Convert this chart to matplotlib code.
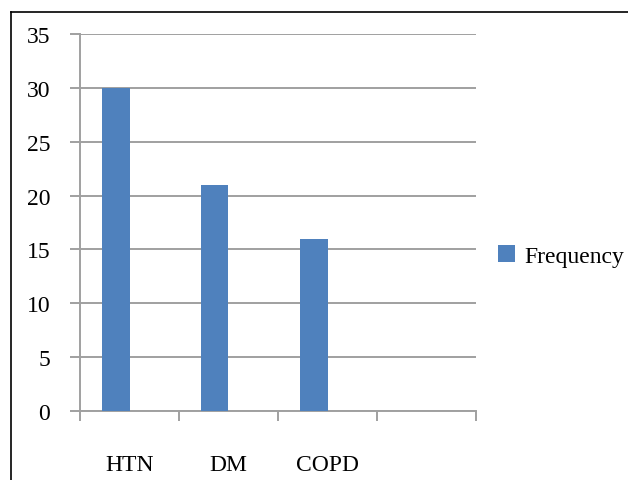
import matplotlib.pyplot as plt
from matplotlib.lines import Line2D

categories = ["HTN", "DM", "COPD", ""]
frequency = [30, 21, 16, None]
y_ticks = [0, 5, 10, 15, 20, 25, 30, 35]

plt.rcParams["font.family"] = ["Liberation Serif", "DejaVu Serif"]

W, H = 628, 481
fig = plt.figure(figsize=(W / 100, H / 100), dpi=100)
ax = fig.add_axes([80 / W, 1 - 412 / H, (476 - 80) / W, (412 - 35) / H])

grid_c = "#a0a0a0"
bar_c = "#4f81bd"
bw = 0.28
fs = 17

xs = [i for i, v in enumerate(frequency) if v is not None]
vals = [v for v in frequency if v is not None]
ax.bar([x - bw for x in xs], vals, width=bw, align="edge", color=bar_c,
       label="Frequency", zorder=3)

ax.set_xlim(-0.5, len(categories) - 0.5)
ax.set_ylim(0, 35)
ax.set_yticks(y_ticks)
ax.yaxis.grid(True, color=grid_c, linewidth=1.4, zorder=0)
ax.set_xticks(range(len(categories)))
ax.set_xticklabels(categories, fontsize=fs)
ax.set_xticks([i - 0.5 for i in range(len(categories) + 1)], minor=True)
ax.tick_params(axis="x", which="major", length=0, pad=31)
ax.tick_params(axis="x", which="minor", length=7.5, width=1.4, color=grid_c)
ax.tick_params(axis="y", length=7.5, width=1.4, color=grid_c, labelsize=fs, pad=14)

for side in ["top", "right"]:
    ax.spines[side].set_visible(False)
for side in ["left", "bottom"]:
    ax.spines[side].set_color(grid_c)
    ax.spines[side].set_linewidth(1.4)

ax.legend(loc="center left", bbox_to_anchor=(498 / W, 1 - 257 / H),
          bbox_transform=fig.transFigure, frameon=False, fontsize=fs,
          borderpad=0, borderaxespad=0,
          handlelength=0.7, handleheight=0.7, handletextpad=0.4)

# outer chart border (left and top edges)
fig.add_artist(Line2D([11 / W, 11 / W], [0, 1 - 13 / H], color="black", lw=1.2,
                      transform=fig.transFigure))
fig.add_artist(Line2D([11 / W, 1], [1 - 13 / H, 1 - 13 / H], color="black", lw=1.2,
                      transform=fig.transFigure))

fig.savefig("out.png", dpi=100)
